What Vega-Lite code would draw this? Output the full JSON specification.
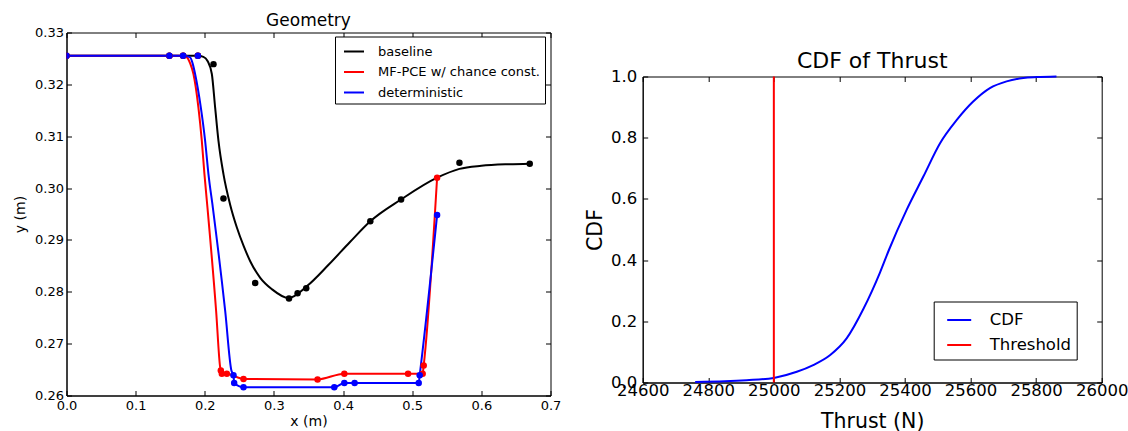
{
  "$schema": "https://vega.github.io/schema/vega-lite/v6.json",
  "background": "white",
  "padding": {"left": 12.5, "top": 11.5, "right": 5, "bottom": 0},
  "config": {
    "font": "DejaVu Sans",
    "view": {"stroke": "black", "strokeWidth": 1},
    "axis": {
      "grid": false,
      "domainColor": "black",
      "tickColor": "black",
      "labelColor": "black",
      "titleColor": "black",
      "labelFont": "DejaVu Sans",
      "titleFont": "DejaVu Sans",
      "titleFontWeight": "normal",
      "tickSize": -5,
      "labelFlush": false,
      "labelOverlap": false
    },
    "title": {"font": "DejaVu Sans", "fontWeight": "normal", "color": "black", "frame": "group"},
    "legend": {
      "labelFont": "DejaVu Sans",
      "labelColor": "black",
      "strokeColor": "black",
      "fillColor": "white",
      "symbolType": "stroke",
      "symbolStrokeWidth": 2,
      "labelLimit": 400,
      "title": null
    }
  },
  "datasets": {
    "geomLines": [
      {"series": "baseline", "i": 0, "x": 0, "y": 0.3255},
      {"series": "baseline", "i": 1, "x": 0.19, "y": 0.3255},
      {"series": "baseline", "i": 2, "x": 0.198, "y": 0.3253},
      {"series": "baseline", "i": 3, "x": 0.204, "y": 0.3245},
      {"series": "baseline", "i": 4, "x": 0.2102, "y": 0.322},
      {"series": "baseline", "i": 5, "x": 0.215, "y": 0.3155},
      {"series": "baseline", "i": 6, "x": 0.2198, "y": 0.3091},
      {"series": "baseline", "i": 7, "x": 0.227, "y": 0.3027},
      {"series": "baseline", "i": 8, "x": 0.2367, "y": 0.2968},
      {"series": "baseline", "i": 9, "x": 0.2464, "y": 0.2924},
      {"series": "baseline", "i": 10, "x": 0.256, "y": 0.2889},
      {"series": "baseline", "i": 11, "x": 0.2657, "y": 0.2859},
      {"series": "baseline", "i": 12, "x": 0.2802, "y": 0.2827},
      {"series": "baseline", "i": 13, "x": 0.2971, "y": 0.2805},
      {"series": "baseline", "i": 14, "x": 0.3211, "y": 0.2788},
      {"series": "baseline", "i": 15, "x": 0.3478, "y": 0.2811},
      {"series": "baseline", "i": 16, "x": 0.379, "y": 0.2852},
      {"series": "baseline", "i": 17, "x": 0.41, "y": 0.2896},
      {"series": "baseline", "i": 18, "x": 0.4394, "y": 0.2936},
      {"series": "baseline", "i": 19, "x": 0.4839, "y": 0.2978},
      {"series": "baseline", "i": 20, "x": 0.536, "y": 0.302},
      {"series": "baseline", "i": 21, "x": 0.5683, "y": 0.3037},
      {"series": "baseline", "i": 22, "x": 0.6, "y": 0.3043},
      {"series": "baseline", "i": 23, "x": 0.64, "y": 0.3046},
      {"series": "baseline", "i": 24, "x": 0.67, "y": 0.3047},
      {"series": "MF-PCE w/ chance const.", "i": 0, "x": 0, "y": 0.3255},
      {"series": "MF-PCE w/ chance const.", "i": 1, "x": 0.165, "y": 0.3255},
      {"series": "MF-PCE w/ chance const.", "i": 2, "x": 0.174, "y": 0.3252},
      {"series": "MF-PCE w/ chance const.", "i": 3, "x": 0.179, "y": 0.324},
      {"series": "MF-PCE w/ chance const.", "i": 4, "x": 0.1836, "y": 0.322},
      {"series": "MF-PCE w/ chance const.", "i": 5, "x": 0.1908, "y": 0.3155},
      {"series": "MF-PCE w/ chance const.", "i": 6, "x": 0.1957, "y": 0.3091},
      {"series": "MF-PCE w/ chance const.", "i": 7, "x": 0.1995, "y": 0.3027},
      {"series": "MF-PCE w/ chance const.", "i": 8, "x": 0.2039, "y": 0.2962},
      {"series": "MF-PCE w/ chance const.", "i": 9, "x": 0.2164, "y": 0.2763},
      {"series": "MF-PCE w/ chance const.", "i": 10, "x": 0.2222, "y": 0.2655},
      {"series": "MF-PCE w/ chance const.", "i": 11, "x": 0.2232, "y": 0.2648},
      {"series": "MF-PCE w/ chance const.", "i": 12, "x": 0.2247, "y": 0.2642},
      {"series": "MF-PCE w/ chance const.", "i": 13, "x": 0.2319, "y": 0.2642},
      {"series": "MF-PCE w/ chance const.", "i": 14, "x": 0.256, "y": 0.2632},
      {"series": "MF-PCE w/ chance const.", "i": 15, "x": 0.3631, "y": 0.2631},
      {"series": "MF-PCE w/ chance const.", "i": 16, "x": 0.4018, "y": 0.2642},
      {"series": "MF-PCE w/ chance const.", "i": 17, "x": 0.494, "y": 0.2642},
      {"series": "MF-PCE w/ chance const.", "i": 18, "x": 0.5151, "y": 0.2642},
      {"series": "MF-PCE w/ chance const.", "i": 19, "x": 0.5166, "y": 0.2658},
      {"series": "MF-PCE w/ chance const.", "i": 20, "x": 0.536, "y": 0.302},
      {"series": "deterministic", "i": 0, "x": 0, "y": 0.3255},
      {"series": "deterministic", "i": 1, "x": 0.17, "y": 0.3255},
      {"series": "deterministic", "i": 2, "x": 0.1788, "y": 0.3252},
      {"series": "deterministic", "i": 3, "x": 0.1825, "y": 0.324},
      {"series": "deterministic", "i": 4, "x": 0.186, "y": 0.322},
      {"series": "deterministic", "i": 5, "x": 0.1943, "y": 0.3155},
      {"series": "deterministic", "i": 6, "x": 0.2005, "y": 0.3091},
      {"series": "deterministic", "i": 7, "x": 0.2053, "y": 0.3027},
      {"series": "deterministic", "i": 8, "x": 0.2117, "y": 0.2962},
      {"series": "deterministic", "i": 9, "x": 0.2295, "y": 0.2763},
      {"series": "deterministic", "i": 10, "x": 0.2385, "y": 0.2648},
      {"series": "deterministic", "i": 11, "x": 0.2415, "y": 0.2639},
      {"series": "deterministic", "i": 12, "x": 0.2425, "y": 0.2624},
      {"series": "deterministic", "i": 13, "x": 0.256, "y": 0.2616},
      {"series": "deterministic", "i": 14, "x": 0.3873, "y": 0.2616},
      {"series": "deterministic", "i": 15, "x": 0.4018, "y": 0.2624},
      {"series": "deterministic", "i": 16, "x": 0.4167, "y": 0.2624},
      {"series": "deterministic", "i": 17, "x": 0.5094, "y": 0.2624},
      {"series": "deterministic", "i": 18, "x": 0.5108, "y": 0.2639},
      {"series": "deterministic", "i": 19, "x": 0.536, "y": 0.2948}
    ],
    "geomPoints": [
      {"series": "baseline", "x": 0, "y": 0.3255},
      {"series": "baseline", "x": 0.1488, "y": 0.3255},
      {"series": "baseline", "x": 0.1687, "y": 0.3255},
      {"series": "baseline", "x": 0.19, "y": 0.3255},
      {"series": "baseline", "x": 0.2126, "y": 0.3239},
      {"series": "baseline", "x": 0.227, "y": 0.298},
      {"series": "baseline", "x": 0.2729, "y": 0.2817},
      {"series": "baseline", "x": 0.3218, "y": 0.2787},
      {"series": "baseline", "x": 0.3342, "y": 0.2797},
      {"series": "baseline", "x": 0.3467, "y": 0.2807},
      {"series": "baseline", "x": 0.4394, "y": 0.2936},
      {"series": "baseline", "x": 0.4839, "y": 0.2978},
      {"series": "baseline", "x": 0.5683, "y": 0.3049},
      {"series": "baseline", "x": 0.67, "y": 0.3047},
      {"series": "MF-PCE w/ chance const.", "x": 0, "y": 0.3255},
      {"series": "MF-PCE w/ chance const.", "x": 0.1488, "y": 0.3255},
      {"series": "MF-PCE w/ chance const.", "x": 0.1687, "y": 0.3255},
      {"series": "MF-PCE w/ chance const.", "x": 0.19, "y": 0.3255},
      {"series": "MF-PCE w/ chance const.", "x": 0.2232, "y": 0.2648},
      {"series": "MF-PCE w/ chance const.", "x": 0.2247, "y": 0.2642},
      {"series": "MF-PCE w/ chance const.", "x": 0.2319, "y": 0.2642},
      {"series": "MF-PCE w/ chance const.", "x": 0.256, "y": 0.2632},
      {"series": "MF-PCE w/ chance const.", "x": 0.3631, "y": 0.2631},
      {"series": "MF-PCE w/ chance const.", "x": 0.4018, "y": 0.2642},
      {"series": "MF-PCE w/ chance const.", "x": 0.494, "y": 0.2642},
      {"series": "MF-PCE w/ chance const.", "x": 0.5151, "y": 0.2642},
      {"series": "MF-PCE w/ chance const.", "x": 0.5166, "y": 0.2658},
      {"series": "MF-PCE w/ chance const.", "x": 0.536, "y": 0.302},
      {"series": "deterministic", "x": 0, "y": 0.3255},
      {"series": "deterministic", "x": 0.1488, "y": 0.3255},
      {"series": "deterministic", "x": 0.1687, "y": 0.3255},
      {"series": "deterministic", "x": 0.19, "y": 0.3255},
      {"series": "deterministic", "x": 0.2415, "y": 0.2639},
      {"series": "deterministic", "x": 0.2425, "y": 0.2624},
      {"series": "deterministic", "x": 0.256, "y": 0.2616},
      {"series": "deterministic", "x": 0.3873, "y": 0.2616},
      {"series": "deterministic", "x": 0.4018, "y": 0.2624},
      {"series": "deterministic", "x": 0.4167, "y": 0.2624},
      {"series": "deterministic", "x": 0.5094, "y": 0.2624},
      {"series": "deterministic", "x": 0.5108, "y": 0.2639},
      {"series": "deterministic", "x": 0.536, "y": 0.2948}
    ],
    "cdf": [
      {"series": "CDF", "thrust": 24760, "cdf": 0.002},
      {"series": "CDF", "thrust": 24850, "cdf": 0.004},
      {"series": "CDF", "thrust": 24917, "cdf": 0.0075},
      {"series": "CDF", "thrust": 25000, "cdf": 0.015},
      {"series": "CDF", "thrust": 25070, "cdf": 0.035},
      {"series": "CDF", "thrust": 25120, "cdf": 0.057},
      {"series": "CDF", "thrust": 25171, "cdf": 0.089},
      {"series": "CDF", "thrust": 25222, "cdf": 0.144},
      {"series": "CDF", "thrust": 25273, "cdf": 0.24},
      {"series": "CDF", "thrust": 25324, "cdf": 0.36},
      {"series": "CDF", "thrust": 25351, "cdf": 0.433},
      {"series": "CDF", "thrust": 25405, "cdf": 0.564},
      {"series": "CDF", "thrust": 25456, "cdf": 0.673},
      {"series": "CDF", "thrust": 25507, "cdf": 0.782},
      {"series": "CDF", "thrust": 25558, "cdf": 0.858},
      {"series": "CDF", "thrust": 25608, "cdf": 0.918},
      {"series": "CDF", "thrust": 25659, "cdf": 0.962},
      {"series": "CDF", "thrust": 25710, "cdf": 0.984},
      {"series": "CDF", "thrust": 25761, "cdf": 0.995},
      {"series": "CDF", "thrust": 25802, "cdf": 0.998},
      {"series": "CDF", "thrust": 25862, "cdf": 1.0}
    ],
    "threshold": [
      {"series": "Threshold", "i": 0, "thrust": 25000, "cdf": 0},
      {"series": "Threshold", "i": 1, "thrust": 25000, "cdf": 1}
    ]
  },
  "hconcat": [
    {
      "width": 484,
      "height": 363,
      "title": {"text": "Geometry", "fontSize": 17, "offset": -3.5},
      "layer": [
        {
          "data": {"name": "geomLines"},
          "mark": {"type": "line", "strokeWidth": 2, "interpolate": "monotone"},
          "encoding": {
            "x": {"field": "x", "type": "quantitative",
              "scale": {"domain": [0, 0.7], "nice": false, "zero": false},
              "axis": {"orient": "bottom", "title": "x (m)", "values": [0, 0.1, 0.2, 0.3, 0.4, 0.5, 0.6, 0.7], "format": ".1f", "labelFontSize": 13, "titleFontSize": 14, "labelPadding": 9, "titlePadding": 2}},
            "y": {"field": "y", "type": "quantitative",
              "scale": {"domain": [0.26, 0.33], "nice": false, "zero": false},
              "axis": {"orient": "left", "title": "y (m)", "values": [0.26, 0.27, 0.28, 0.29, 0.3, 0.31, 0.32, 0.33], "format": ".2f", "labelFontSize": 13, "titleFontSize": 14, "labelPadding": 8, "titlePadding": 7.5}},
            "color": {"field": "series", "type": "nominal",
              "scale": {"domain": ["baseline", "MF-PCE w/ chance const.", "deterministic"], "range": ["#000000", "#ff0000", "#0000ff"]},
              "legend": {"orient": "none", "legendX": 268.5, "legendY": 4, "labelFontSize": 13, "symbolSize": 400, "symbolOffset": 4, "labelOffset": 13, "padding": 4, "rowPadding": 2.5}},
            "order": {"field": "i", "type": "quantitative"}
          }
        },
        {
          "data": {"name": "geomPoints"},
          "mark": {"type": "point", "filled": true, "size": 42, "opacity": 1, "clip": true},
          "encoding": {
            "x": {"field": "x", "type": "quantitative",
              "axis": {"orient": "top", "labels": false, "title": null, "domain": false, "values": [0, 0.1, 0.2, 0.3, 0.4, 0.5, 0.6, 0.7]}},
            "y": {"field": "y", "type": "quantitative",
              "axis": {"orient": "right", "labels": false, "title": null, "domain": false, "values": [0.26, 0.27, 0.28, 0.29, 0.3, 0.31, 0.32, 0.33]}},
            "color": {"field": "series", "type": "nominal", "legend": null}
          }
        }
      ]
    },
    {
      "vconcat": [
        {
          "width": 459,
          "height": 1,
          "view": {"stroke": null},
          "data": {"values": [{"k": 1}]},
          "mark": {"type": "point", "opacity": 0, "size": 1},
          "encoding": {}
        },
        {
          "width": 459,
          "height": 306,
          "title": {"text": "CDF of Thrust", "fontSize": 22, "offset": -4},
          "layer": [
            {
              "data": {"name": "cdf"},
              "mark": {"type": "line", "strokeWidth": 2, "interpolate": "monotone"},
              "encoding": {
                "x": {"field": "thrust", "type": "quantitative",
                  "scale": {"domain": [24600, 26000], "nice": false, "zero": false},
                  "axis": {"orient": "bottom", "title": "Thrust (N)", "values": [24600, 24800, 25000, 25200, 25400, 25600, 25800, 26000], "format": "d", "labelFontSize": 16.5, "titleFontSize": 20.5, "labelPadding": 5, "titlePadding": 12}},
                "y": {"field": "cdf", "type": "quantitative",
                  "scale": {"domain": [0, 1], "nice": false, "zero": false},
                  "axis": {"orient": "left", "title": "CDF", "values": [0, 0.2, 0.4, 0.6, 0.8, 1.0], "format": ".1f", "labelFontSize": 16.5, "titleFontSize": 20.5, "labelPadding": 11, "titlePadding": 5}},
                "color": {"field": "series", "type": "nominal",
                  "scale": {"domain": ["CDF", "Threshold"], "range": ["#0000ff", "#ff0000"]},
                  "legend": {"orient": "none", "legendX": 291, "legendY": 269, "labelFontSize": 16.5, "symbolSize": 576, "symbolOffset": 7, "labelOffset": 17.5, "padding": 5.5, "rowPadding": 3}}
              }
            },
            {
              "data": {"name": "threshold"},
              "mark": {"type": "line", "strokeWidth": 2},
              "encoding": {
                "x": {"field": "thrust", "type": "quantitative", "axis": null},
                "y": {"field": "cdf", "type": "quantitative", "axis": null},
                "color": {"field": "series", "type": "nominal", "legend": null},
                "order": {"field": "i", "type": "quantitative"}
              }
            },
            {
              "data": {"name": "cdf"},
              "mark": {"type": "point", "opacity": 0},
              "encoding": {
                "x": {"field": "thrust", "type": "quantitative",
                  "axis": {"orient": "top", "labels": false, "title": null, "domain": false, "values": [24600, 24800, 25000, 25200, 25400, 25600, 25800, 26000]}},
                "y": {"field": "cdf", "type": "quantitative",
                  "axis": {"orient": "right", "labels": false, "title": null, "domain": false, "values": [0, 0.2, 0.4, 0.6, 0.8, 1.0]}}
              }
            }
          ]
        }
      ],
      "spacing": 15
    }
  ],
  "spacing": 23.2,
  "resolve": {"scale": {"color": "independent"}, "legend": {"color": "independent"}}
}
